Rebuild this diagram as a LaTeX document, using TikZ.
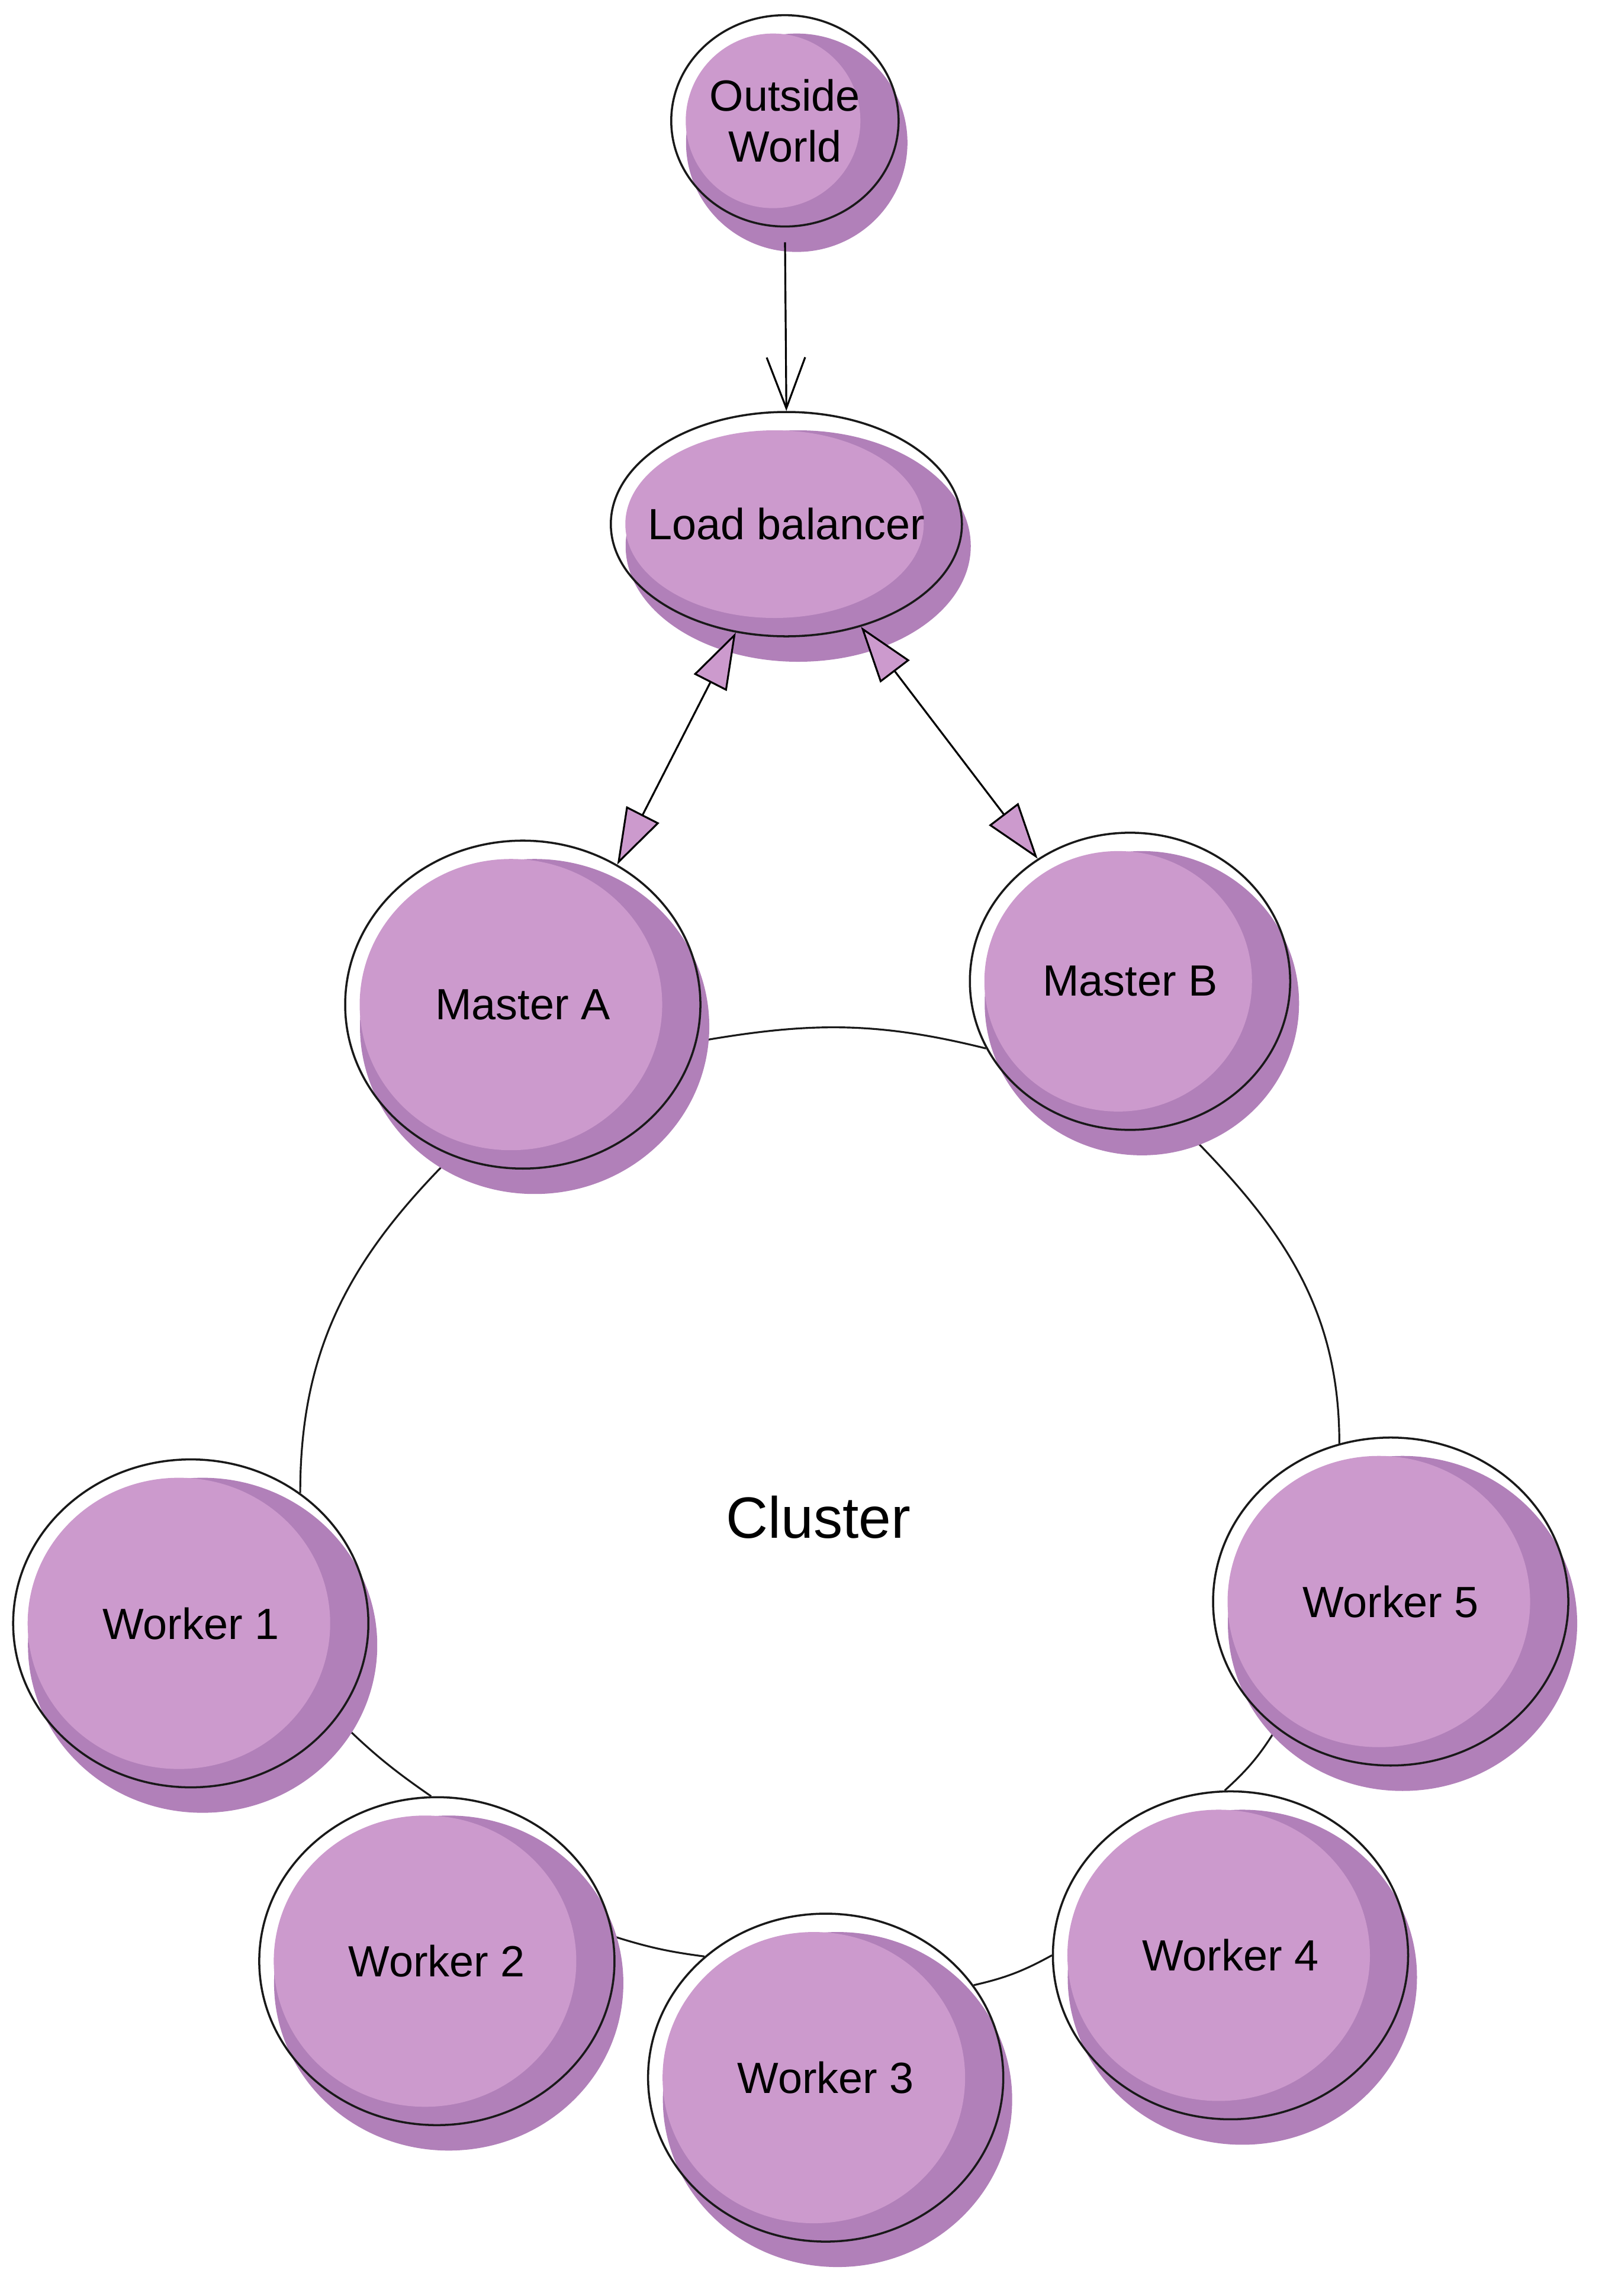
\documentclass[tikz,border=0pt]{standalone}
\usepackage{fontspec}
\setmainfont{Liberation Sans}
\usetikzlibrary{shapes.geometric,arrows.meta}
\definecolor{pLight}{RGB}{204,154,205}
\definecolor{pDark}{RGB}{177,128,185}
\pgfdeclarelayer{back}
\pgfsetlayers{back,main}
\tikzset{
  blobback/.style 2 args={ellipse, fill=pDark, inner sep=0pt, minimum width=#1-0.1cm, minimum height=#2+0.12cm, xshift=0.2cm, yshift=-0.37cm},
  blobfill/.style 2 args={ellipse, fill=pLight, inner sep=0pt, minimum width=#1-0.89cm, minimum height=#2-0.62cm, xshift=-0.2cm},
  blobrim/.style 2 args={ellipse, draw=black!90, line width=1pt, inner sep=0pt, minimum width=#1, minimum height=#2},
  every label/.style={font=\fontsize{21pt}{24.5pt}\selectfont, align=center},
  ring/.style={draw=black!90, line width=0.9pt},
  tri/.tip={Triangle[length=0.95cm, width=0.62cm, fill=pLight]}
}
\begin{document}
\begin{tikzpicture}[x=0.0246cm, y=-0.0246cm, line width=0.9pt]
    \useasboundingbox (0,0) rectangle (1100,1577);

    % 影
    \node[blobback={3.84cm}{3.57cm}] (OW-b) at (539,83) {};
    \node[blobback={5.93cm}{3.79cm}] (LB-b) at (540,360) {};
    \node[blobback={6cm}{5.54cm}] (MA-b) at (359,690) {};
    \node[blobback={5.41cm}{5.02cm}] (MB-b) at (776,674) {};
    \node[blobback={6cm}{5.54cm}] (W1-b) at (131,1115) {};
    \node[blobback={6cm}{5.54cm}] (W2-b) at (300,1347) {};
    \node[blobback={6cm}{5.54cm}] (W3-b) at (567,1427) {};
    \node[blobback={6cm}{5.54cm}] (W4-b) at (845,1343) {};
    \node[blobback={6cm}{5.54cm}] (W5-b) at (955,1100) {};

    % 塗り
    \node[blobfill={3.84cm}{3.57cm}] (OW-f) at (539,83) {};
    \node[blobfill={5.93cm}{3.79cm}] (LB-f) at (540,360) {};
    \node[blobfill={6cm}{5.54cm}] (MA-f) at (359,690) {};
    \node[blobfill={5.41cm}{5.02cm}] (MB-f) at (776,674) {};
    \node[blobfill={6cm}{5.54cm}] (W1-f) at (131,1115) {};
    \node[blobfill={6cm}{5.54cm}] (W2-f) at (300,1347) {};
    \node[blobfill={6cm}{5.54cm}] (W3-f) at (567,1427) {};
    \node[blobfill={6cm}{5.54cm}] (W4-f) at (845,1343) {};
    \node[blobfill={6cm}{5.54cm}] (W5-f) at (955,1100) {};

    % ノード
    \node[blobrim={3.84cm}{3.57cm}, label=center:{Outside\\World}] (OW) at (539,83) {};
    \node[blobrim={5.93cm}{3.79cm}, label=center:{Load balancer}] (LB) at (540,360) {};
    \node[blobrim={6cm}{5.54cm}, label=center:{Master A}] (MA) at (359,690) {};
    \node[blobrim={5.41cm}{5.02cm}, label=center:{Master B}] (MB) at (776,674) {};
    \node[blobrim={6cm}{5.54cm}, label=center:{Worker 1}] (W1) at (131,1115) {};
    \node[blobrim={6cm}{5.54cm}, label=center:{Worker 2}] (W2) at (300,1347) {};
    \node[blobrim={6cm}{5.54cm}, label=center:{Worker 3}] (W3) at (567,1427) {};
    \node[blobrim={6cm}{5.54cm}, label=center:{Worker 4}] (W4) at (845,1343) {};
    \node[blobrim={6cm}{5.54cm}, label=center:{Worker 5}] (W5) at (955,1100) {};
    \node[font=\fontsize{28pt}{32pt}\selectfont] (CL) at (562,1042) {Cluster};

    % エッジ
    \draw[-{Straight Barb[length=0.86cm, width=0.65cm]}, shorten <=0.25cm] (OW.south) -- (LB.north);
    \draw[tri-tri] (LB.245) -- (MA.56);
    \draw[tri-tri] (LB.-54) -- (MB.127);

    % クラスタ
    \begin{pgfonlayer}{back}
    \fill[white] (0,0) rectangle (1100,1577);
    \draw[ring] (MA.-12) to[out=10, in=166] (MB.205);
    \draw[ring] (MB.-71) to[out=-45, in=90] (W5.108);
    \draw[ring] (W5.228) to[bend left=8] (W4.92);
    \draw[ring] (W4.180) to[bend left=8] (W3.32);
    \draw[ring] (W3.135) to[bend left=5] (W2.8);
    \draw[ring] (W2.92) to[bend left=5] (W1.-33);
    \draw[ring] (W1.50) to[out=90, in=225] (MA.245);
    \end{pgfonlayer}
\end{tikzpicture}
\end{document}
